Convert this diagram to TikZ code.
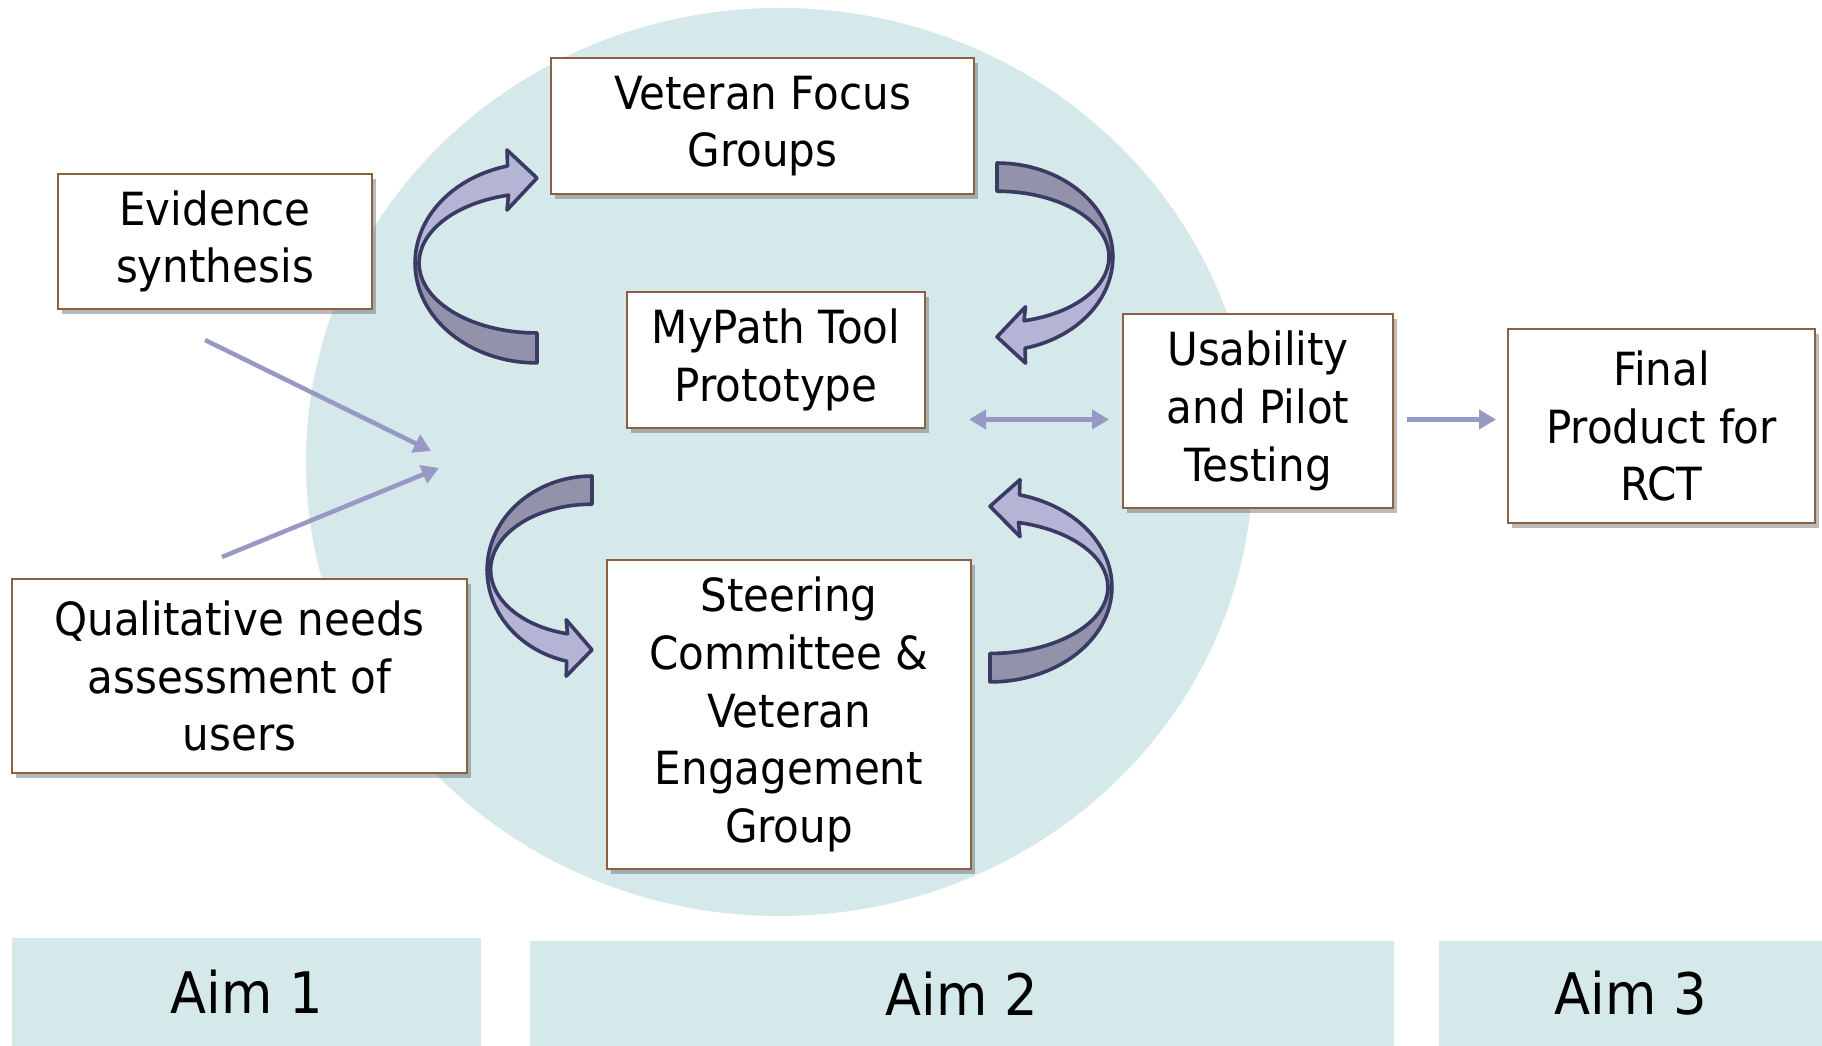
\documentclass[tikz,border=0pt]{standalone}
\usepackage{fontspec}
\setmainfont{DejaVu Sans}[FakeStretch=0.92]
\usetikzlibrary{shadows,arrows.meta}

\definecolor{pool}{RGB}{213,232,234}
\definecolor{frame}{RGB}{140,96,64}
\definecolor{flow}{RGB}{152,152,196}
\definecolor{ribbonlight}{RGB}{180,180,212}
\definecolor{ribbondark}{RGB}{146,146,170}
\definecolor{ribbonedge}{RGB}{58,58,100}

% one curved ribbon arrow, drawn round (0,0); #1 = shift and mirroring
\newcommand{\loopribbon}[1]{%
\begin{scope}[#1,x=0.01cm,y=0.01cm,line width=0.036cm,line join=round]
\filldraw[fill=ribbondark,draw=ribbonedge] (0,-100) arc[start angle=270,end angle=180,x radius=122,y radius=100]
  -- (-118,0) arc[start angle=180,end angle=270,x radius=118,y radius=70] -- cycle;
\filldraw[fill=ribbonlight,draw=ribbonedge] (-122,0) arc[start angle=180,end angle=104,x radius=122,y radius=100]
  -- (-30,113) -- (0,85) -- (-30,53) -- (-28.5,67.9) arc[start angle=104,end angle=180,x radius=118,y radius=70] -- cycle;
\end{scope}}

\begin{document}
\begin{tikzpicture}[box/.style={draw=frame,line width=0.02cm,fill=white,align=center,inner sep=0pt,
                   font=\fontsize{13}{16.4}\selectfont,
                   drop shadow={shadow xshift=0.04cm,shadow yshift=-0.05cm,opacity=0.45,fill=black!60}},
                   aimbar/.style={fill=pool,inner sep=0pt,font=\fontsize{16.3}{20}\selectfont},
                   flowline/.style={draw=flow,line width=0.045cm,-{Triangle[length=0.17cm,width=0.19cm]}}]
\useasboundingbox (0,0) rectangle (18.22,10.46);

\fill[pool] (7.795,5.84) ellipse [x radius=4.735,y radius=4.54];

\loopribbon{shift={(5.37cm,7.83cm)}}
\loopribbon{shift={(9.97cm,7.89cm)},xscale=-0.95,yscale=-0.94}
\loopribbon{shift={(5.92cm,4.76cm)},xscale=0.86,yscale=-0.94}
\loopribbon{shift={(9.90cm,4.59cm)},xscale=-1,yscale=0.95}

\node[box,minimum width=4.23cm,minimum height=1.36cm] (focus) at (7.625,9.20) {Veteran Focus\\Groups};
\node[box,minimum width=3.14cm,minimum height=1.35cm] (evidence) at (2.15,8.045) {Evidence\\synthesis};
\node[box,minimum width=2.98cm,minimum height=1.36cm] (mypath) at (7.76,6.86) {MyPath Tool\\Prototype};
\node[box,minimum width=2.70cm,minimum height=1.94cm] (usability) at (12.58,6.35) {Usability\\and Pilot\\Testing};
\node[box,minimum width=3.07cm,minimum height=1.94cm] (final) at (16.615,6.20) {Final\\Product for\\RCT};
\node[box,minimum width=4.55cm,minimum height=1.94cm] (qualitative) at (2.395,3.70) {Qualitative needs\\assessment of\\users};
\node[box,minimum width=3.64cm,minimum height=3.09cm] (steering) at (7.89,3.315) {Steering\\Committee \&\\Veteran\\Engagement\\Group};

\node[aimbar,minimum width=4.69cm,minimum height=1.08cm] (aimone) at (2.465,0.54) {Aim 1};
\node[aimbar,minimum width=8.64cm,minimum height=1.05cm] (aimtwo) at (9.62,0.525) {Aim 2};
\node[aimbar,minimum width=3.83cm,minimum height=1.05cm] (aimthree) at (16.305,0.525) {Aim 3};

\coordinate (evtail) at (2.05,7.06);
\coordinate (evhead) at (4.31,5.95);
\coordinate (qutail) at (2.22,4.89);
\coordinate (quhead) at (4.39,5.78);
\coordinate (pairleft) at (9.69,6.265);
\coordinate (pairright) at (11.09,6.265);
\coordinate (outleft) at (14.07,6.265);
\coordinate (outright) at (14.96,6.265);

\draw[flowline] (evtail) -- (evhead);
\draw[flowline] (qutail) -- (quhead);
\draw[flowline,{Triangle[length=0.17cm,width=0.19cm]}-{Triangle[length=0.17cm,width=0.19cm]}] (pairleft) -- (pairright);
\draw[flowline] (outleft) -- (outright);
\end{tikzpicture}
\end{document}
